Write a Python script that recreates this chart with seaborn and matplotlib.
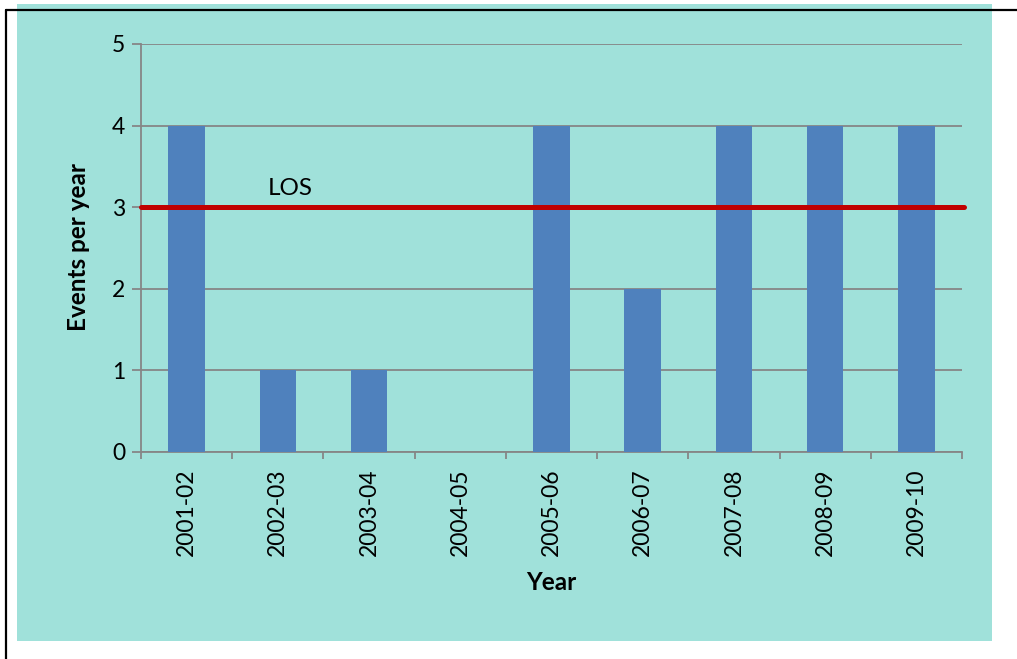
import matplotlib
matplotlib.use("Agg")
import matplotlib.pyplot as plt
import seaborn as sns
import pandas as pd
from matplotlib.patches import Rectangle
from matplotlib.lines import Line2D
from matplotlib.ticker import FixedLocator

years = ["2001-02", "2002-03", "2003-04", "2004-05", "2005-06",
         "2006-07", "2007-08", "2008-09", "2009-10"]
events = [4, 1, 1, 0, 4, 2, 4, 4, 4]
los_level = 3
los_label = "LOS"
y_ticks = [0, 1, 2, 3, 4, 5]

sns.set_style("white")
plt.rcParams['font.family'] = ['Lato', 'DejaVu Sans']
plt.rcParams['text.color'] = 'black'
plt.rcParams['xtick.color'] = 'black'
plt.rcParams['ytick.color'] = 'black'

W, H = 1017, 659
fig = plt.figure(figsize=(W / 100, H / 100), dpi=100)
fig.patch.set_facecolor("white")

teal = "#A0E1DA"
# teal panel
fig.patches.append(Rectangle((17 / W, 1 - 641 / H), (992 - 17) / W, (641 - 4) / H,
                             transform=fig.transFigure, facecolor=teal,
                             edgecolor="none", zorder=-2))
# black border lines (top and left)
fig.lines.append(Line2D([5.5 / W, 1.0], [1 - 10 / H, 1 - 10 / H], transform=fig.transFigure,
                        color="black", lw=1.6, zorder=5))
fig.lines.append(Line2D([5.5 / W, 5.5 / W], [0, 1 - 10 / H], transform=fig.transFigure,
                        color="black", lw=1.6, zorder=5))

ax = fig.add_axes([141 / W, 1 - 452 / H, (962 - 141) / W, (452 - 44) / H])
ax.set_facecolor(teal)

df = pd.DataFrame({"Year": years, "Events": events})
sns.barplot(data=df, x="Year", y="Events", color="#4F81BD", saturation=1,
            width=0.4, ax=ax, zorder=3, linewidth=0, edgecolor="none")

ax.set_xlim(-0.5, len(years) - 0.5)
ax.set_ylim(0, 5)
ax.set_yticks(y_ticks)
ax.yaxis.grid(True, color="#868686", lw=1.3, zorder=1)
ax.set_axisbelow(True)

for s in ["top", "right"]:
    ax.spines[s].set_visible(False)
for s in ["left", "bottom"]:
    ax.spines[s].set_color("#868686")
    ax.spines[s].set_linewidth(1.3)

ax.tick_params(axis="y", which="major", left=True, length=6.5, width=1.3,
               color="#868686", labelcolor="black", labelsize=16.5, pad=5)
ax.tick_params(axis="x", which="major", bottom=False, length=0, labelsize=16.5,
               labelcolor="black", pad=12, labelrotation=90)
ax.xaxis.set_minor_locator(FixedLocator([i - 0.5 for i in range(len(years) + 1)]))
ax.tick_params(axis="x", which="minor", bottom=True, length=5, width=1.3,
               color="#868686")
for lbl in ax.get_xticklabels():
    lbl.set_va("top")

ax.set_xlabel("")
ax.set_ylabel("")

ax.axhline(los_level, xmin=0, xmax=1.003, color="#C00000", lw=3.6, zorder=4,
           clip_on=False)
ax.text(0.89, los_level + 0.15, los_label, fontsize=17.5, va="baseline",
        ha="left", zorder=5, color="black")

fig.text(78 / W, 1 - 247 / H, "Events per year", rotation=90, fontsize=17.5,
         fontweight="bold", ha="center", va="center", color="black")
fig.text(551 / W, 1 - 582 / H, "Year", fontsize=17.5, fontweight="bold",
         ha="center", va="center", color="black")

fig.savefig("out.png", dpi=100, facecolor="white")
